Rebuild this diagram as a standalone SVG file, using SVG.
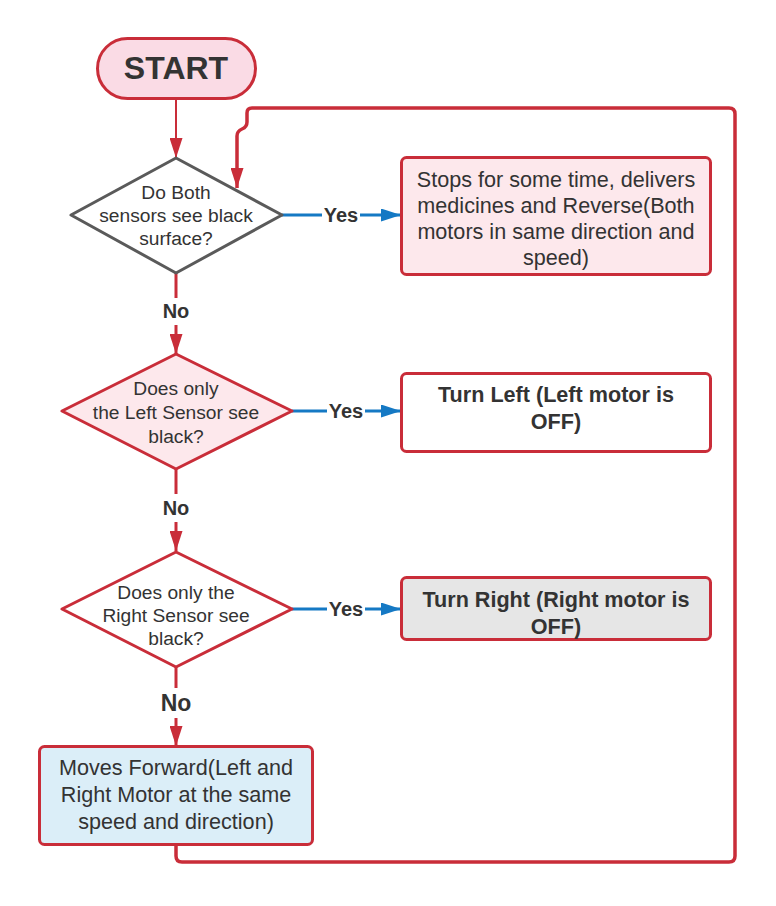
<svg xmlns="http://www.w3.org/2000/svg" width="776" height="906" viewBox="0 0 776 906">
<defs>
<style>
.t{font-family:"Liberation Sans",Arial,sans-serif;fill:#333333;text-anchor:middle}
.box{font-size:21.6px}
.dia{font-size:19.2px}
.b{font-weight:bold}
.lbl{font-family:"Liberation Sans",Arial,sans-serif;fill:#333333;text-anchor:middle;font-weight:bold;font-size:20px}
.red{fill:none;stroke:#c92d39;stroke-width:3}
.blue{fill:none;stroke:#1579c4;stroke-width:3}
.shape{stroke:#c92d39;stroke-width:3}
</style>
<marker id="ar" viewBox="0 0 20 13" refX="20" refY="6.5" markerWidth="20" markerHeight="13" markerUnits="userSpaceOnUse" orient="auto">
<path d="M0 0 L20 6.5 L0 13 Z" fill="#c92d39"/>
</marker>
<marker id="ab" viewBox="0 0 20 13" refX="20" refY="6.5" markerWidth="20" markerHeight="13" markerUnits="userSpaceOnUse" orient="auto">
<path d="M0 0 L20 6.5 L0 13 Z" fill="#1579c4"/>
</marker>
</defs>
<rect width="776" height="906" fill="#ffffff"/>

<g id="connectors">
<path class="red" style="stroke-width:2" d="M176 99 V158" marker-end="url(#ar)"/>
<path class="red" style="stroke-width:3.5" d="M176 845 V856 Q176 862 182 862 H729 Q735 862 735 856 V114 Q735 108 729 108 H252 Q247 108 247 113 V122 Q247 127 242 129 Q237 131 237 136 V188" marker-end="url(#ar)"/>
<path class="red" d="M176 273 V298"/>
<path class="red" d="M176 325 V354" marker-end="url(#ar)"/>
<path class="red" d="M176 469 V494"/>
<path class="red" d="M176 522 V551" marker-end="url(#ar)"/>
<path class="red" d="M176 667 V688"/>
<path class="red" d="M176 718 V746" marker-end="url(#ar)"/>
<path class="blue" d="M282 215 H322"/>
<path class="blue" d="M360 215 H401" marker-end="url(#ab)"/>
<path class="blue" d="M292 411 H327"/>
<path class="blue" d="M365 411 H401" marker-end="url(#ab)"/>
<path class="blue" d="M292 609 H327"/>
<path class="blue" d="M365 609 H401" marker-end="url(#ab)"/>
<text class="lbl" x="341" y="222">Yes</text>
<text class="lbl" x="346" y="418">Yes</text>
<text class="lbl" x="346" y="616">Yes</text>
<text class="lbl" x="176" y="318">No</text>
<text class="lbl" x="176" y="515">No</text>
<text class="lbl" x="176" y="711" style="font-size:23px">No</text>
</g>

<g id="start">
<rect class="shape" x="97.5" y="38.5" width="158" height="60" rx="30" fill="#fadbe5"/>
<text class="t b" x="176" y="78.5" style="font-size:32px">START</text>
</g>

<g id="d1">
<path d="M176 158 L282 215 L176 273 L71 215 Z" fill="#ffffff" stroke="#5a5a5a" stroke-width="3" stroke-linejoin="round"/>
<text class="t dia" x="176" y="199">Do Both</text>
<text class="t dia" x="176" y="222">sensors see black</text>
<text class="t dia" x="176" y="245">surface?</text>
</g>

<g id="box1">
<rect class="shape" x="401.5" y="157.5" width="309" height="117" rx="5" fill="#fde8ec"/>
<text class="t box" x="556" y="187">Stops for some time, delivers</text>
<text class="t box" x="556" y="213">medicines and Reverse(Both</text>
<text class="t box" x="556" y="239">motors in same direction and</text>
<text class="t box" x="556" y="265">speed)</text>
</g>

<g id="d2">
<path class="shape" d="M176 354 L292 411 L176 469 L62 411 Z" fill="#fde8ec" stroke-linejoin="round"/>
<text class="t dia" x="176" y="395">Does only</text>
<text class="t dia" x="176" y="419">the Left Sensor see</text>
<text class="t dia" x="176" y="443">black?</text>
</g>

<g id="box2">
<rect class="shape" x="401.5" y="373.5" width="309" height="78" rx="5" fill="#ffffff"/>
<text class="t box b" x="556" y="402">Turn Left (Left motor is</text>
<text class="t box b" x="556" y="429">OFF)</text>
</g>

<g id="d3">
<path class="shape" d="M176 552 L292 609 L176 667 L62 609 Z" fill="#ffffff" stroke-linejoin="round"/>
<text class="t dia" x="176" y="599">Does only the</text>
<text class="t dia" x="176" y="622">Right Sensor see</text>
<text class="t dia" x="176" y="645">black?</text>
</g>

<g id="box3">
<rect class="shape" x="401.5" y="577.5" width="309" height="62" rx="5" fill="#e6e6e6"/>
<text class="t box b" x="556" y="607">Turn Right (Right motor is</text>
<text class="t box b" x="556" y="634">OFF)</text>
</g>

<g id="box4">
<rect class="shape" x="39.5" y="746.5" width="273" height="98" rx="5" fill="#dbeef8"/>
<text class="t box" x="176" y="775">Moves Forward(Left and</text>
<text class="t box" x="176" y="802">Right Motor at the same</text>
<text class="t box" x="176" y="829">speed and direction)</text>
</g>
</svg>
